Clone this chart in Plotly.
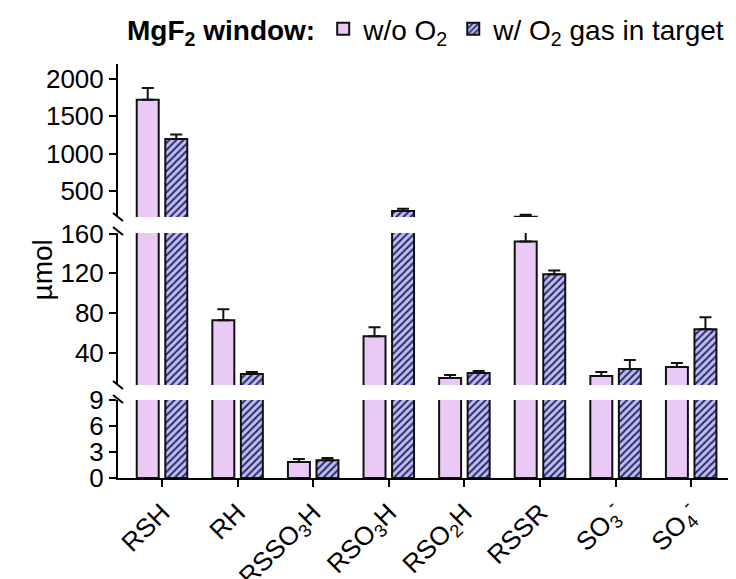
import plotly.graph_objects as go
from plotly.subplots import make_subplots

# ---------------- data ----------------
categories = ["RSH", "RH", "RSSO<sub>3</sub>H", "RSO<sub>3</sub>H", "RSO<sub>2</sub>H",
              "RSSR", "SO<sub>3</sub><sup>-</sup>", "SO<sub>4</sub><sup>-</sup>"]
without_o2 = [1720, 73, 1.85, 57, 15, 152, 17, 26]
without_o2_err = [160, 11, 0.35, 9, 3, 27, 4, 4]
with_o2 = [1195, 19, 2.05, 232, 20, 119, 24, 64]
with_o2_err = [60, 2, 0.25, 27, 2, 4, 9, 12]

top_ticks = [500, 1000, 1500, 2000]
mid_ticks = [40, 80, 120, 160]
bot_ticks = [0, 3, 6, 9]

series_names = ["w/o O<sub>2</sub>", "w/ O<sub>2</sub> gas in target"]
legend_title = "<b>MgF<sub>2</sub> window:</b>"

# ---------------- layout geometry ----------------
# the page body has an 8px margin, so the figure is drawn 8px smaller and
# all reference pixel positions are shifted by that offset
OFF = 8
W, H = 736 - OFF, 579 - OFF
ML, MR, MT, MB = 118 - OFF, 0, 64 - OFF, 101
PW = W - ML - MR
PH = H - MT - MB


def py(y_px):
    return (H - MB - (y_px - OFF)) / PH


def px(x_px):
    return ((x_px - OFF) - ML) / PW


FONT = "Arial, Liberation Sans, sans-serif"
PINK = "#EBC9F6"
HATCH_BG = "#BDBDEE"
HATCH_FG = "#28286A"

fig = make_subplots(rows=3, cols=1, shared_xaxes=True, vertical_spacing=0.02)

for row in (1, 2, 3):
    show = row == 1
    fig.add_trace(go.Bar(
        x=categories, y=without_o2, name=series_names[0], showlegend=show,
        legendgroup="a",
        marker=dict(color=PINK, line=dict(color="#111111", width=2)),
        error_y=dict(type="data", array=without_o2_err,
                     arrayminus=[0] * len(without_o2_err), symmetric=False,
                     color="#111111", thickness=2, width=6),
    ), row=row, col=1)
    fig.add_trace(go.Bar(
        x=categories, y=with_o2, name=series_names[1], showlegend=show,
        legendgroup="b",
        marker=dict(color=HATCH_BG, line=dict(color="#111111", width=2),
                    pattern=dict(shape="/", fgcolor=HATCH_FG, bgcolor=HATCH_BG,
                                 size=5, solidity=0.4, fillmode="replace")),
        error_y=dict(type="data", array=with_o2_err,
                     arrayminus=[0] * len(with_o2_err), symmetric=False,
                     color="#111111", thickness=2, width=6),
    ), row=row, col=1)

yax_common = dict(showline=True, linewidth=2, linecolor="black", ticks="outside",
                  ticklen=7, tickwidth=2, tickcolor="black", showgrid=False,
                  zeroline=False, automargin=False,
                  tickfont=dict(family=FONT, size=26, color="black"))
xax_hidden = dict(range=[-0.582, 7.593], showline=False, showticklabels=False, ticks="",
                  showgrid=False, zeroline=False, automargin=False)

fig.update_layout(
    width=W, height=H,
    margin=dict(l=ML, r=MR, t=MT, b=MB, autoexpand=False),
    plot_bgcolor="white", paper_bgcolor="white",
    barmode="group", bargap=0.245, bargroupgap=0.23,
    font=dict(family=FONT, color="black"),
    legend=dict(orientation="h", x=px(125), xanchor="left", y=py(29), yanchor="middle",
                title=dict(text=legend_title, side="left",
                           font=dict(family=FONT, size=28, color="black")),
                font=dict(family=FONT, size=28, color="black"),
                itemwidth=30, tracegroupgap=0, bgcolor="rgba(0,0,0,0)"),
    yaxis=dict(domain=[py(217), py(64)], range=[150, 2200], tickvals=top_ticks, **yax_common),
    yaxis2=dict(domain=[py(385), py(233)], range=[8, 160.5], tickvals=mid_ticks, **yax_common),
    yaxis3=dict(domain=[0, py(400)], range=[0, 9.02], tickvals=bot_ticks, **yax_common),
    xaxis=xax_hidden,
    xaxis2=xax_hidden,
    xaxis3=dict(range=[-0.582, 7.593], showline=True, linewidth=2, linecolor="black",
                ticks="outside", ticklen=7, tickwidth=2, tickcolor="black",
                tickangle=-45, showgrid=False, zeroline=False, automargin=False,
                tickfont=dict(family=FONT, size=26, color="black")),
)

# axis break marks
shapes = []
for yb in (217, 231, 385, 399):
    shapes.append(dict(type="line", xref="paper", yref="paper",
                       x0=px(118 - 5), x1=px(118 + 5), y0=py(yb - 4), y1=py(yb + 4),
                       line=dict(color="black", width=2)))
fig.update_layout(shapes=shapes)

fig.add_annotation(text="µmol", xref="paper", yref="paper", x=px(24), y=py(270),
                   showarrow=False, textangle=-90,
                   font=dict(family=FONT, size=28, color="black"))

fig.write_html("out.html")
